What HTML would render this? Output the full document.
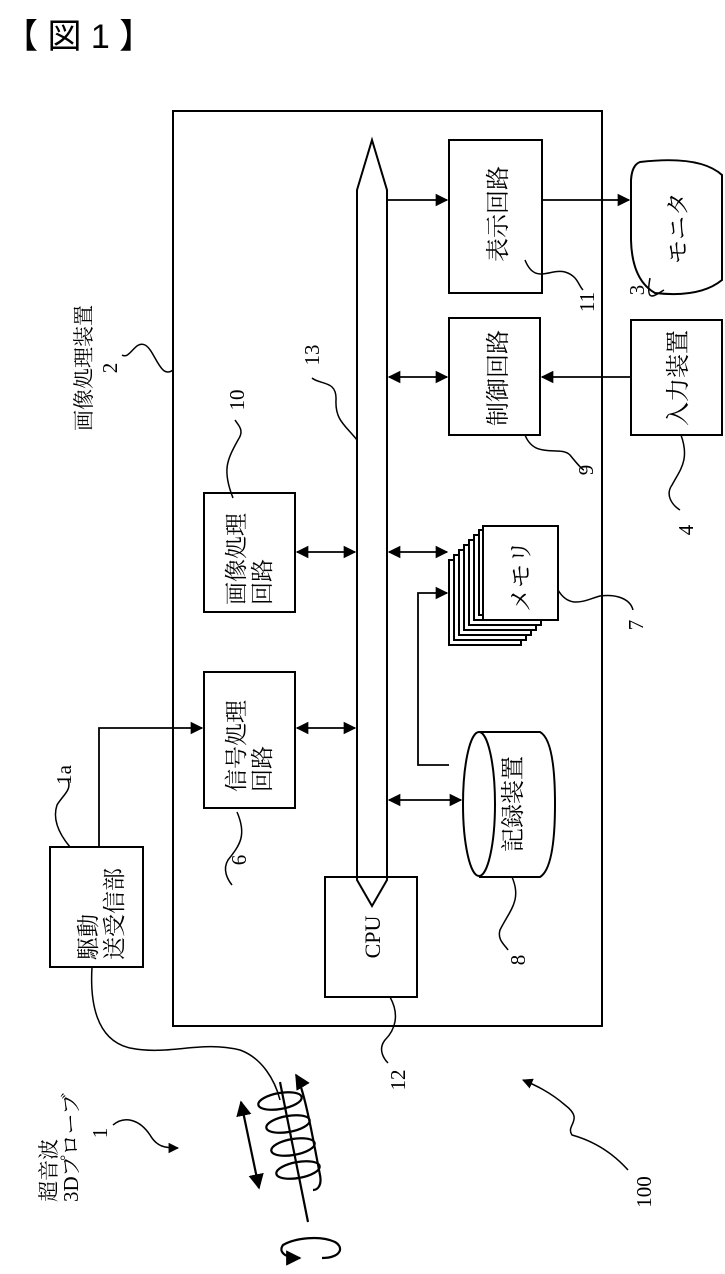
<!DOCTYPE html>
<html><head><meta charset="utf-8"><style>
html,body{margin:0;padding:0;background:#fff;}
svg{display:block;}
text{font-family:"Liberation Serif","Noto Serif CJK SC","Noto Sans CJK JP",serif;fill:#000;}
.j{font-family:"Liberation Sans","Noto Sans CJK JP",sans-serif;}
</style></head><body>
<svg width="725" height="1274" viewBox="0 0 725 1274" xmlns="http://www.w3.org/2000/svg">
<defs>
<marker id="a" viewBox="0 0 10 10" refX="9" refY="5" markerWidth="7" markerHeight="7" orient="auto-start-reverse"><path d="M0,0 L10,5 L0,10 z" fill="#000"/></marker>
</defs>
<text x="4" y="48" class="j" font-size="34">【 図 1 】</text>
<g fill="none" stroke="#000" stroke-width="2">
<rect x="173" y="111" width="429" height="915"/>
<path d="M357,190 L372,140 L387,190 L387,880 L372,906 L357,880 Z"/>
<rect x="449" y="140" width="93" height="153"/>
<path d="M640,162 Q700,155 722,175 L722,280 Q700,298 655,293 Q632,280 631,240 L631,180 Q632,165 640,162 Z"/>
<rect x="449" y="318" width="91" height="117"/>
<rect x="631" y="320" width="91" height="115"/>
<rect x="204" y="493" width="91" height="119"/>
<rect x="204" y="672" width="91" height="136"/>
<rect x="325" y="877" width="92" height="120"/>
<rect x="50" y="847" width="93" height="120"/>
<g fill="#fff">
<rect x="449" y="560" width="72" height="85"/>
<rect x="454" y="555" width="72" height="85"/>
<rect x="459" y="550" width="72" height="85"/>
<rect x="464" y="545" width="72" height="85"/>
<rect x="469" y="540" width="72" height="85"/>
<rect x="474" y="535" width="72" height="85"/>
<rect x="479" y="530" width="72" height="85"/>
<rect x="483" y="526" width="75" height="94"/>
</g>
<path d="M479,732 L540,732 Q555,740 555,804 Q555,868 540,877 L479,877"/>
<ellipse cx="479" cy="804" rx="16" ry="72"/>
<g stroke-width="1.8">
<line x1="388" y1="200" x2="447" y2="200" marker-end="url(#a)"/>
<line x1="542" y1="200" x2="629" y2="200" marker-end="url(#a)"/>
<line x1="389" y1="377" x2="447" y2="377" marker-start="url(#a)" marker-end="url(#a)"/>
<line x1="631" y1="377" x2="542" y2="377" marker-end="url(#a)"/>
<line x1="297" y1="552" x2="355" y2="552" marker-start="url(#a)" marker-end="url(#a)"/>
<line x1="389" y1="552" x2="447" y2="552" marker-start="url(#a)" marker-end="url(#a)"/>
<path d="M449,765 L418,765 L418,593 L447,593" marker-end="url(#a)"/>
<line x1="297" y1="728" x2="355" y2="728" marker-start="url(#a)" marker-end="url(#a)"/>
<path d="M99,847 L99,728 L202,728" marker-end="url(#a)"/>
<line x1="389" y1="800" x2="461" y2="800" marker-start="url(#a)" marker-end="url(#a)"/>
</g>
<g stroke-width="1.5">
<path d="M173,370 C160,380 155,350 145,345 C135,340 130,360 122,355"/>
<path d="M357,440 C345,425 335,420 336,400 C337,380 320,385 312,378"/>
<path d="M233,498 C222,470 227,460 238,440 C245,430 238,425 235,420"/>
<path d="M525,260 C535,285 550,268 565,272 C578,276 578,285 583,290"/>
<path d="M664,290 C655,295 645,305 650,278"/>
<path d="M525,435 C535,460 560,445 570,455 C578,465 583,470 584,470"/>
<path d="M681,435 C690,460 680,470 672,485 C665,495 672,505 680,510"/>
<path d="M558,590 C570,610 585,600 600,596 C615,594 630,598 633,610"/>
<path d="M70,847 C60,835 52,820 57,805 C63,795 72,790 68,780"/>
<path d="M237,812 C247,835 240,845 228,860 C222,870 228,880 232,885"/>
<path d="M512,877 C522,900 510,910 500,930 C497,940 505,945 508,950"/>
<path d="M390,997 C400,1015 395,1030 385,1040 C377,1050 385,1060 388,1063"/>
<path d="M113,1125 C125,1115 140,1120 150,1135 C157,1147 165,1148 178,1148" marker-end="url(#a)"/>
<path d="M628,1170 C610,1150 590,1140 572,1135 C565,1125 585,1120 565,1105 C550,1092 535,1085 523,1080" marker-end="url(#a)"/>
<path d="M92,967 C90,1000 95,1040 130,1048 C170,1056 200,1040 240,1050 C262,1058 275,1080 280,1100"/>
</g>
<g stroke-width="2.2">
<line x1="280" y1="1082" x2="308" y2="1222"/>
<ellipse cx="280" cy="1101" rx="22" ry="8" transform="rotate(-10 280 1101)"/>
<ellipse cx="288" cy="1124" rx="22" ry="8" transform="rotate(-10 288 1124)"/>
<ellipse cx="293" cy="1147" rx="22" ry="8" transform="rotate(-10 293 1147)"/>
<ellipse cx="298" cy="1170" rx="22" ry="8" transform="rotate(-10 298 1170)"/>
<path d="M296,1075 C305,1090 315,1150 320,1175 C322,1185 318,1190 313,1190" marker-start="url(#a)"/>
<line x1="241" y1="1102" x2="259" y2="1188" marker-start="url(#a)" marker-end="url(#a)"/>
<path d="M322,1258 C340,1258 345,1248 335,1242 C320,1235 295,1238 283,1245 C278,1252 285,1258 300,1258" marker-end="url(#a)"/>
</g>
</g>
<g class="j" font-size="24" text-anchor="middle">
<text transform="translate(506,214) rotate(-90)">表示回路</text>
<text transform="translate(506,378) rotate(-90)">制御回路</text>
<text transform="translate(686,378) rotate(-90)">入力装置</text>
<text transform="translate(686,228) rotate(-90)">モニタ</text>
<text transform="translate(529,576) rotate(-90)">メモリ</text>
<text transform="translate(521,804) rotate(-90)">記録装置</text>
<text transform="translate(91,368) rotate(-90)" font-size="21">画像処理装置</text>
</g>
<g class="j" font-size="23" text-anchor="start">
<text transform="translate(244,605) rotate(-90)">画像処理</text>
<text transform="translate(270,605) rotate(-90)">回路</text>
<text transform="translate(244,792) rotate(-90)">信号処理</text>
<text transform="translate(270,792) rotate(-90)">回路</text>
<text transform="translate(96,960) rotate(-90)">駆動</text>
<text transform="translate(122,960) rotate(-90)">送受信部</text>
<text transform="translate(56,1202) rotate(-90)" font-size="21">超音波</text>
<text transform="translate(78,1202) rotate(-90)" font-size="21">3Dプローブ</text>
</g>
<g font-size="21" text-anchor="middle">
<text transform="translate(380,937) rotate(-90)" font-size="22">CPU</text>
<text transform="translate(117,368) rotate(-90)">2</text>
<text transform="translate(319,355) rotate(-90)">13</text>
<text transform="translate(244,400) rotate(-90)">10</text>
<text transform="translate(594,302) rotate(-90)">11</text>
<text transform="translate(644,290) rotate(-90)">3</text>
<text transform="translate(593,470) rotate(-90)">9</text>
<text transform="translate(693,530) rotate(-90)">4</text>
<text transform="translate(643,625) rotate(-90)">7</text>
<text transform="translate(71,775) rotate(-90)">1a</text>
<text transform="translate(246,860) rotate(-90)">6</text>
<text transform="translate(525,960) rotate(-90)">8</text>
<text transform="translate(405,1080) rotate(-90)">12</text>
<text transform="translate(107,1133) rotate(-90)">1</text>
<text transform="translate(651,1192) rotate(-90)">100</text>
</g>
</svg>
</body></html>
